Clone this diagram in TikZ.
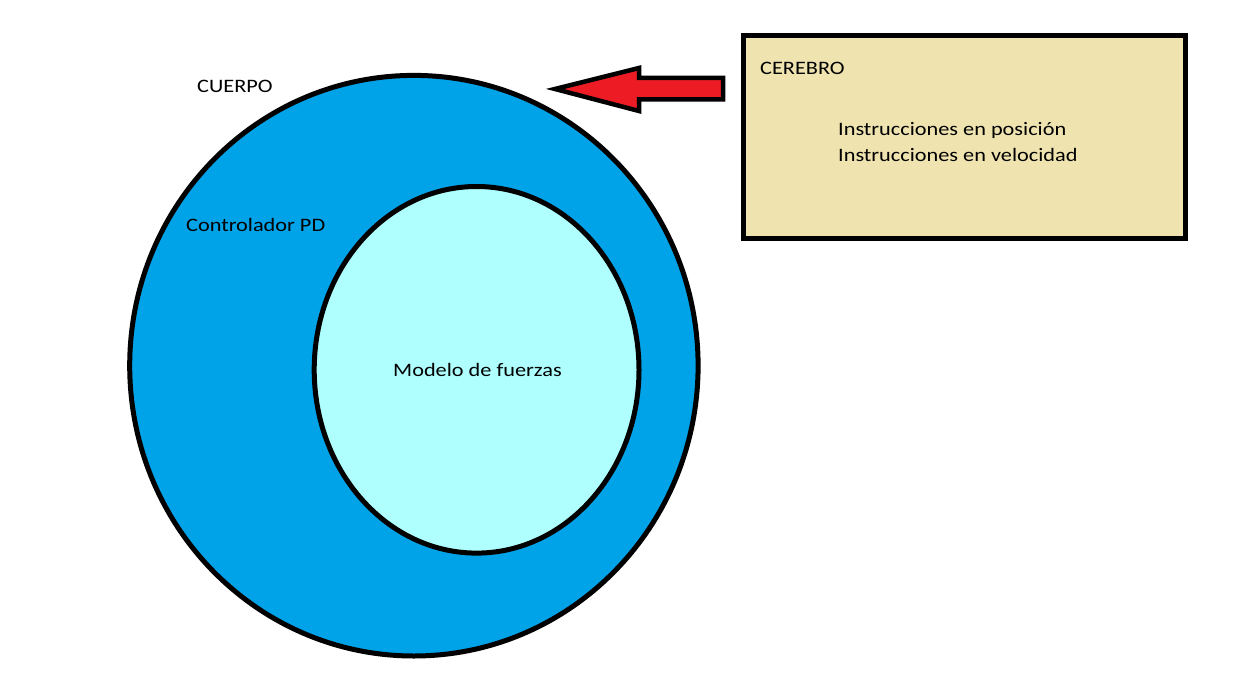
\documentclass[tikz,border=0pt]{standalone}
\usepackage{fontspec}
\usepackage{graphicx}
\setmainfont{Carlito}
\definecolor{bodyblue}{HTML}{00A2E8}
\definecolor{modelcyan}{HTML}{AFFFFF}
\definecolor{brain}{HTML}{EFE4B0}
\definecolor{arrowred}{HTML}{ED1C24}
\newcommand{\wide}[1]{\scalebox{1.173}[1]{#1}}
\begin{document}
\begin{tikzpicture}[x=1pt,y=-1pt,
  outline/.style={draw=black,line width=5pt,line join=miter},
  lbl/.style={anchor=base west,inner sep=0pt,font=\fontsize{19}{25}\selectfont}]
\useasboundingbox (0,0) rectangle (1236,687);
\fill[white] (0,0) rectangle (1236,687);
% body
\draw[outline,fill=bodyblue] (413.9,365.7) ellipse [x radius=284.2, y radius=290.3];
% force model
\draw[outline,fill=modelcyan] (476.6,369.8) ellipse [x radius=162.4, y radius=183.3];
% brain box
\draw[outline,fill=brain] (743,35.5) rectangle (1185.5,238);
% arrow
\draw[outline,line width=4.5pt,fill=arrowred] (555,89) -- (639,68) -- (639,78) -- (723,78) -- (723,99.5) -- (639,99.5) -- (639,111) -- cycle;
% labels
\node[lbl] (cuerpo) at (197,93) {\wide{CUERPO}};
\node[lbl] (pd) at (186,231) {\wide{Controlador PD}};
\node[lbl] (modelo) at (393,376) {\wide{Modelo de fuerzas}};
\node[lbl] (cerebro) at (760,74.5) {\wide{CEREBRO}};
\node[lbl] (pos) at (838,135.5) {\wide{Instrucciones en posición}};
\node[lbl] (vel) at (838,161.5) {\wide{Instrucciones en velocidad}};
\end{tikzpicture}
\end{document}
